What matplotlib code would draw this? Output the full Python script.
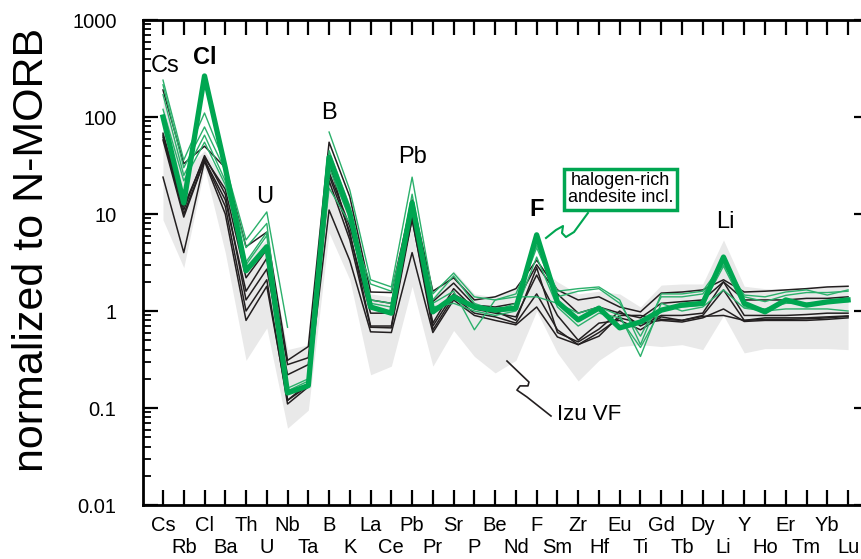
#!/usr/bin/env python3
"""Spider diagram: melt inclusions vs Izu VF, normalized to N-MORB."""

import matplotlib

matplotlib.use("Agg")
import matplotlib.pyplot as plt
import numpy as np

ELEMENTS = ["Cs", "Rb", "Cl", "Ba", "Th", "U", "Nb", "Ta", "B", "K", "La", "Ce",
            "Pb", "Pr", "Sr", "P", "Be", "Nd", "F", "Sm", "Zr", "Hf", "Eu", "Ti",
            "Gd", "Tb", "Dy", "Li", "Y", "Ho", "Er", "Tm", "Yb", "Lu"]

# Izu VF envelope
izu_upper = [150, 28, 45, 22, 3.5, 5.5, 0.4, 0.45, 40, 12, 1.5, 1.4,
             8, 1.4, 2.6, 1.5, 1.4, 1.7, 3.0, 2.0, 1.5, 1.6, 1.5, 1.1,
             1.85, 1.9, 1.9, 5.4, 1.8, 1.7, 1.7, 1.75, 1.8, 1.8]
izu_lower = [8.7, 2.8, 30, 4, 0.31, 0.67, 0.062, 0.095, 6.4, 2.1, 0.22, 0.27,
             1.8, 0.27, 0.63, 0.34, 0.23, 0.31, 1.0, 0.37, 0.19, 0.31, 0.43, 0.45,
             0.43, 0.45, 0.40, 0.9, 0.37, 0.41, 0.41, 0.41, 0.41, 0.40]

# ordinary melt inclusions (black)
mi_black = [
    [190, 33, 50, 30, 4.6, 6.5, 0.31, 0.43, 55, 15, 1.57, 1.55,
     14, 1.6, 2.2, 1.3, 1.4, 1.7, 3.35, 1.65, 1.3, 1.4, 1.1, 0.98,
     1.53, 1.57, 1.65, 2.1, 1.57, 1.6, 1.65, 1.7, 1.77, 1.8],
    [68, 12, 38, 18, 2.2, 4.3, 0.28, 0.33, 27, 7.4, 1.3, 1.2,
     12, 1.25, 1.94, 1.15, 1.1, 1.2, 3.0, 1.5, 0.95, 1.1, 0.95, 0.85,
     1.2, 1.25, 1.3, 2.0, 1.3, 1.3, 1.3, 1.35, 1.35, 1.4],
    [62, 10, 36, 14, 1.6, 3.5, 0.12, 0.18, 35, 6, 0.95, 0.95,
     8.7, 0.75, 1.7, 1.05, 0.95, 0.87, 2.35, 0.9, 0.5, 0.75, 0.8, 0.64,
     0.87, 0.8, 0.9, 1.65, 0.8, 0.85, 0.85, 0.85, 0.87, 0.89],
    [58, 9.3, 36, 12, 1.0, 2.1, 0.11, 0.165, 22, 5.4, 0.68, 0.67,
     9, 0.64, 1.4, 0.95, 0.87, 0.75, 1.5, 0.64, 0.45, 0.6, 0.85, 0.75,
     0.8, 0.77, 0.85, 1.05, 0.78, 0.8, 0.8, 0.8, 0.82, 0.85],
    [24, 4, 35, 10, 0.8, 1.8, 0.12, 0.17, 11, 3.3, 0.61, 0.6,
     4, 0.6, 1.3, 0.9, 0.8, 0.72, 1.1, 0.54, 0.45, 0.55, 0.9, 0.9,
     0.82, 0.8, 0.88, 0.9, 0.8, 0.82, 0.82, 0.83, 0.85, 0.88],
    [65, 11, 40, 16, 1.3, 2.7, 0.22, 0.28, 25, 6.5, 0.7, 0.7,
     10, 0.7, 1.5, 1.1, 1.0, 0.8, 2.8, 0.6, 0.48, 0.65, 1.0, 0.7,
     0.9, 0.9, 0.95, 2.0, 0.9, 0.9, 0.9, 0.92, 0.95, 0.95],
]

# halogen-rich andesite inclusions (thin green)
mi_green = [
    [240, 36, 110, 32, 5.4, 10.5, 0.68, np.nan, 70, 17.6, 2.1, 1.77,
     24, 1.5, 2.46, 1.4, 1.3, 1.5, 4.8, 1.6, 1.7, 1.77, 1.3, 0.45,
     1.5, 1.5, 1.6, 3.2, 1.46, 1.4, 1.57, 1.65, 1.46, 1.65],
    [215, 30, 79, 28, 4.5, 8, 0.15, 0.19, 18.5, 8, 1.9, 1.6,
     12, 1.3, 2.3, 1.2, 1.0, 1.2, 4.5, 1.4, 1.6, 1.7, 1.2, 0.55,
     1.4, 1.4, 1.5, 3.0, 1.4, 1.25, 1.45, 1.55, 1.55, 1.6],
    [170, 25, 65, 22, 3.0, 6, 0.14, 0.18, 45, 12, 1.2, 1.1,
     11, 1.2, 1.6, 0.64, 1.3, 1.4, 1.4, 1.2, 0.95, 1.1, 0.9, 0.34,
     1.2, 1.0, 1.1, 1.65, 1.07, 1.0, 1.05, 1.05, 1.05, 1.0],
    [120, 22, 55, 20, 3.2, 6.5, 0.16, 0.2, 30, 9, 1.3, 1.2,
     16, 1.1, 1.2, 1.0, 0.9, 1.0, 3.6, 1.1, 0.7, 0.95, 0.85, 0.42,
     1.05, 1.1, 1.15, 2.9, 1.1, 1.05, 1.2, 1.2, 1.25, 1.25],
]

# the highlighted inclusion (thick green)
mi_main = [100, 13, 265, 30, 2.6, 4.6, 0.143, 0.17, 38.6, 10.2, 1.1, 0.95,
           13, 0.98, 1.4, 1.1, 1.02, 1.07, 6.1, 1.24, 0.81, 1.07, 0.67, 0.77,
           1.02, 1.15, 1.2, 3.6, 1.2, 0.98, 1.3, 1.15, 1.24, 1.3]

# peak labels: (text, x index, y value, bold)
PEAK_LABELS = [("Cs", 0.1, 336, False), ("Cl", 2.0, 415, True), ("U", 4.9, 15, False),
               ("B", 8.0, 110, False), ("Pb", 12.0, 38.7, False), ("F", 18.0, 11, True),
               ("Li", 27.1, 8.3, False)]

# wiggly leader lines (data coords)
halogen_leader_x = [18.45, 18.93, 19.27, 19.22, 19.41, 19.80, 20.47]
halogen_leader_y = [5.66, 6.84, 7.52, 6.37, 5.79, 6.52, 10.24]
izu_leader_x = [16.57, 17.63, 17.58, 17.20, 17.05, 17.53, 18.69]
izu_leader_y = [0.305, 0.185, 0.169, 0.169, 0.153, 0.130, 0.0827]

GREEN = "#00a651"
GREEN_THIN = "#2bb06b"
BLACK = "#231f20"


def main() -> None:
    plt.rcParams["font.family"] = ["Liberation Sans", "DejaVu Sans"]

    fig = plt.figure(figsize=(8.62, 5.59), dpi=100)
    ax = fig.add_axes([0.1659, 0.0966, 0.842, 0.8676])

    x = np.arange(len(ELEMENTS))

    ax.fill_between(x, izu_lower, izu_upper, color="#e9e9e9", linewidth=0, zorder=1)
    for row in mi_black:
        ax.plot(x, row, color=BLACK, linewidth=1.1, zorder=2)
    for row in mi_green:
        ax.plot(x, row, color=GREEN_THIN, linewidth=1.0, zorder=3)
    ax.plot(x, mi_main, color=GREEN, linewidth=3.8, solid_joinstyle="round", zorder=4)

    ax.set_yscale("log")
    ax.set_ylim(0.01, 1000)
    ax.set_xlim(-0.963, 34)

    ax.set_xticks(x[::2], ELEMENTS[::2])
    ax.set_xticks(x[1::2], ELEMENTS[1::2], minor=True)
    ax.tick_params(axis="x", which="both", direction="in", length=11, width=1.6,
                   top=True, labelsize=14.5, colors="black")
    ax.tick_params(axis="x", which="major", pad=8)
    ax.tick_params(axis="x", which="minor", pad=24)

    ax.set_yticks([0.01, 0.1, 1, 10, 100, 1000], ["0.01", "0.1", "1", "10", "100", "1000"])
    ax.tick_params(axis="y", which="major", direction="in", length=11, width=1.6,
                   right=True, labelsize=14.5, pad=19)
    ax.tick_params(axis="y", which="minor", direction="in", length=6, width=1.3,
                   right=False)
    ax.set_ylabel("normalized to N-MORB", fontsize=31)
    ax.yaxis.set_label_coords(-0.126, 0.525)

    for spine in ax.spines.values():
        spine.set_linewidth(2.0)

    for text, xi, yv, bold in PEAK_LABELS:
        ax.text(xi, yv, text, fontsize=17, ha="center", va="center",
                fontweight="bold" if bold else "normal", zorder=5)

    ax.plot(halogen_leader_x, halogen_leader_y, color=GREEN, linewidth=1.5, zorder=5)
    ax.text(22.04, 17.9, "halogen-rich\nandesite incl.", fontsize=13, ha="center",
            va="center", linespacing=1.0, zorder=6,
            bbox=dict(boxstyle="square,pad=0.22", facecolor="white", edgecolor=GREEN,
                      linewidth=2.5))

    ax.plot(izu_leader_x, izu_leader_y, color=BLACK, linewidth=1.2, zorder=5)
    ax.text(18.98, 0.0847, "Izu VF", fontsize=16, ha="left", va="center", zorder=5)

    fig.savefig("out.png", dpi=100)
    plt.close(fig)


if __name__ == "__main__":
    main()
